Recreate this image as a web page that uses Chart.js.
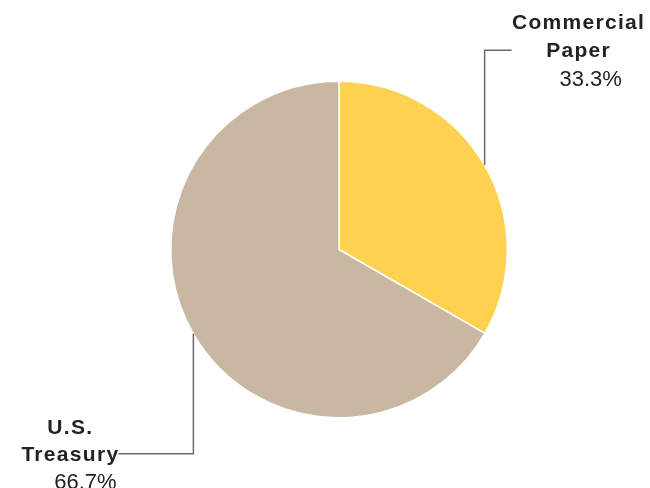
<!DOCTYPE html>
<html>
<head>
<meta charset="utf-8">
<script src="https://cdn.jsdelivr.net/npm/chart.js@4/dist/chart.umd.min.js"></script>
<style>
  html, body { margin: 0; padding: 0; background: #fff; }
  #wrap { width: 650px; height: 488px; position: relative; }
</style>
</head>
<body>
<div id="wrap"><canvas id="c" width="650" height="488"></canvas></div>
<script>
// 値は図から読み取り
const categories = ['Commercial Paper', 'U.S. Treasury'];
const labelLines = [['Commercial', 'Paper'], ['U.S.', 'Treasury']];
const shares = [33.3, 66.7];
const colors = ['#FFD150', '#C8B8A2'];

// 引き出し線とラベル
const leaderLabels = {
  id: 'leaderLabels',
  afterDraw(chart) {
    const ctx = chart.ctx;
    const arcs = chart.getDatasetMeta(0).data;
    ctx.save();
    arcs.forEach((arc, i) => {
      const mid = (arc.startAngle + arc.endAngle) / 2;
      const sx = arc.x + Math.cos(mid) * arc.outerRadius;
      const sy = arc.y + Math.sin(mid) * arc.outerRadius;
      const up = Math.sin(mid) < 0;
      const ey = up ? sy - 115 : sy + 120;
      const ex = up ? sx + 27 : sx - 75;

      ctx.strokeStyle = '#6b6b6b';
      ctx.lineWidth = 1.5;
      ctx.beginPath();
      ctx.moveTo(sx, sy);
      ctx.lineTo(sx, ey);
      ctx.lineTo(ex, ey);
      ctx.stroke();

      ctx.fillStyle = '#222';
      ctx.textAlign = 'center';
      ctx.textBaseline = 'alphabetic';
      ctx.font = 'bold 21px "Liberation Sans", Arial, sans-serif';
      ctx.letterSpacing = '1.3px';
      let cx, y0, step;
      if (up) { cx = ex + 67; y0 = ey - 29; step = 28.5; }
      else { cx = ex - 48; y0 = ey - 27; step = 27; }
      // 中心 y からベースラインへ (キャップ高さの半分)
      labelLines[i].forEach((t, k) => ctx.fillText(t, cx, y0 + k * step + 7.5));
      ctx.letterSpacing = '0px';
      ctx.font = '22px "Liberation Sans", Arial, sans-serif';
      const pct = shares[i].toFixed(1) + '%';
      ctx.fillText(pct, up ? cx + 12 : cx + 15, y0 + 2 * step + 7.8);
    });
    ctx.restore();
  }
};

new Chart(document.getElementById('c'), {
  type: 'pie',
  data: {
    labels: categories,
    datasets: [{
      data: shares,
      backgroundColor: colors,
      borderColor: '#ffffff',
      borderWidth: 1.5,
    }],
  },
  options: {
    responsive: false,
    animation: false,
    layout: { padding: { top: 80, bottom: 69, left: 170, right: 142 } },
    plugins: {
      legend: { display: false },
      tooltip: { enabled: false },
    },
  },
  plugins: [leaderLabels],
});
</script>
</body>
</html>
